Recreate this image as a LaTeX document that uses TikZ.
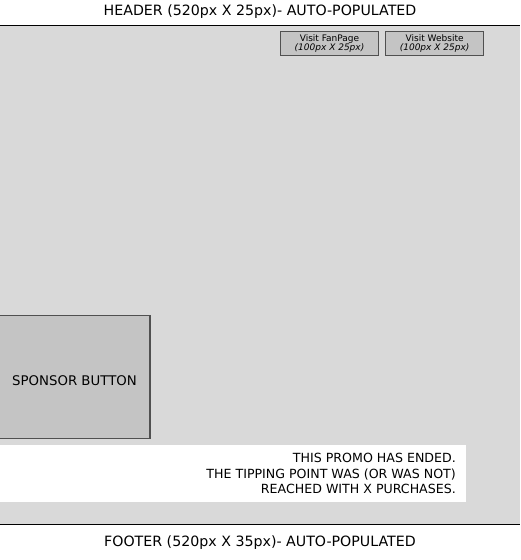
\documentclass[tikz,border=0pt]{standalone}
\usepackage{fontspec}
\setmainfont{DejaVu Sans}
\usetikzlibrary{positioning}
\definecolor{pageGray}{RGB}{217,217,217}
\definecolor{btnGray}{RGB}{196,196,196}
\definecolor{btnEdge}{RGB}{80,80,80}

\begin{document}
\begin{tikzpicture}[x=1pt,y=-1pt,
    bartext/.style={font=\fontsize{14.2}{16}\selectfont,inner sep=0pt},
    linkbtn/.style={draw=btnEdge,fill=btnGray,line width=1.6pt,minimum width=98pt,minimum height=24pt,inner sep=0pt,align=center,font=\fontsize{9}{8.6}\selectfont},
    sponsorbtn/.style={draw=btnEdge,fill=btnGray,line width=1.6pt,minimum width=153pt,minimum height=123pt,inner sep=0pt},
    rule/.style={draw=black,line width=1pt}
  ]
    \useasboundingbox (0,0) rectangle (520,560);
    \fill[white] (0,0) rectangle (520,560);
    \fill[pageGray] (0,25) rectangle (520,524);
    \draw[rule] (0,25) -- (520,25);
    \draw[rule] (0,524) -- (520,524);
    \node[bartext] (header) at (260,12) {HEADER (520px X 25px)- AUTO-POPULATED};
    \node[bartext] (footer) at (260,543) {FOOTER (520px X 35px)- AUTO-POPULATED};
    % link buttons top right
    \node[linkbtn] (fanpage) at (329.5,43.5) {Visit FanPage\\\textit{(100px X 25px)}};
    \node[linkbtn,right=5.5pt of fanpage] (website) {Visit Website\\\textit{(100px X 25px)}};
    % sponsor
    \node[sponsorbtn] (sponsor) at (73.5,377) {};
    \node[font=\fontsize{13.3}{15}\selectfont,inner sep=0pt] (sponsortext) at (74.5,380.5) {SPONSOR BUTTON};
    % promo message
    \fill[white] (0,445) rectangle (466,502);
    \node[anchor=north east,align=right,inner sep=0pt,font=\fontsize{12.6}{15.6}\selectfont] (promo) at (456,453)
      {THIS PROMO HAS ENDED.\\THE TIPPING POINT WAS (OR WAS NOT)\\REACHED WITH X PURCHASES.};
  \end{tikzpicture}
\end{document}
